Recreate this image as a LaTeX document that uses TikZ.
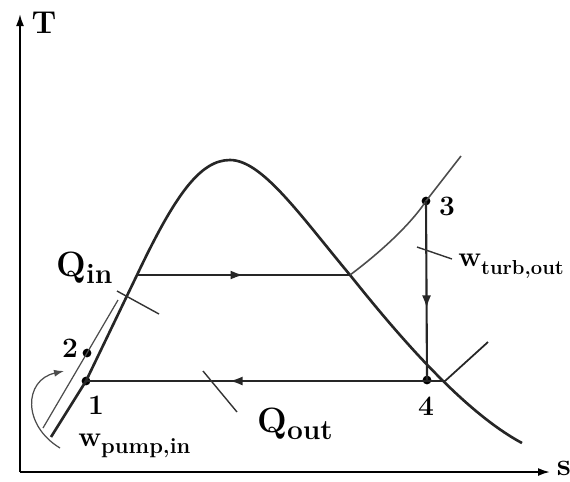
\documentclass[tikz,border=0pt]{standalone}
\usepackage{tikz}
\usetikzlibrary{arrows.meta, decorations.markings, calc}
\tikzset{
  axisline/.style={line width=1.1pt, -{Latex[length=2.4mm, width=1.6mm]}},
  domeline/.style={line width=1.5pt, draw=black!85},
  thinline/.style={line width=0.7pt, draw=black!70},
  tickline/.style={line width=0.8pt, draw=black!80},
  procline/.style={
    line width=1.2pt, draw=black!85, postaction={decorate},
    decoration={markings,
      mark=at position #1 with {\arrow{Latex[length=2.6mm, width=1.8mm]}}}
  },
  procline/.default=0.5,
  statept/.style={circle, fill=black, inner sep=0pt, minimum size=5pt},
  statelbl/.style={font=\fontsize{16}{17}\selectfont\bfseries},
  axislbl/.style={font=\fontsize{18}{19}\selectfont\bfseries},
  heatlbl/.style={anchor=west, inner sep=0pt, font=\fontsize{20}{21}\selectfont\bfseries},
  worklbl/.style={anchor=west, inner sep=0pt, font=\fontsize{16}{17}\selectfont\bfseries},
}

\begin{document}
\begin{tikzpicture}[x=0.02cm, y=-0.02cm]
    \useasboundingbox (0,0) rectangle (570,481);

    \coordinate (orig)  at (20,472);
    \coordinate (Ttop)  at (20,14);
    \coordinate (send)  at (550,472);
    \coordinate (fL)    at (137,275);
    \coordinate (gR)    at (350,275);
    \coordinate (gB)    at (445,381);
    \coordinate (domeA) at (51,437);
    \coordinate (domeB) at (522,443);
    \coordinate (supE)  at (461,156);
    \coordinate (isoE)  at (488,342);
    \coordinate (liqA)  at (43,428);
    \coordinate (liqB)  at (118,300);

    \node[statept] (p1) at (86,381) {};
    \node[statept] (p2) at (87,353) {};
    \node[statept] (p3) at (426,201) {};
    \node[statept] (p4) at (427,380) {};

    \draw[axisline] (orig) -- (Ttop);
    \draw[axisline] (orig) -- (send);
    \node[axislbl] (Tlbl) at (44,23) {T};
    \node[axislbl] (slbl) at (564,468) {s};

    \draw[thinline] (liqA) -- (p2.center) -- (liqB);

    \draw[domeline] (domeA) -- (p1.center) -- (fL)
      .. controls (175,195) and (200,160) .. (230,160)
      .. controls (262,160) and (300,215) .. (gR)
      .. controls (390,325) and (460,410) .. (domeB);

    \draw[thinline, line width=0.9pt] (gR) .. controls (390,245) and (415,218) .. (p3.center) -- (supE);
    \draw[thinline, line width=1pt, draw=black!85] (gB) -- (isoE);

    \draw[procline=0.5]  (fL) -- (gR);
    \draw[procline=0.6]  (p3.center) -- (p4.center);
    \draw[procline=0.6]  (gB) -- (p1.center);

    \coordinate (pmpA) at (60,448);
    \coordinate (pmpB) at (64,371);
    \draw[thinline, -{Latex[length=2mm, width=1.4mm]}] (pmpA) .. controls (22,425) and (24,380) .. (pmpB);

    \coordinate (qiA) at (117,291);
    \coordinate (qiB) at (159,314);
    \coordinate (qoA) at (203,371);
    \coordinate (qoB) at (237,412);
    \coordinate (wtA) at (417,247);
    \coordinate (wtB) at (452,259);
    \foreach \a/\b in {qiA/qiB, qoA/qoB, wtA/wtB}
      \draw[tickline] (\a) -- (\b);

    \node[statelbl] (l1) at (96,405) {1};
    \node[statelbl] (l2) at (70,348) {2};
    \node[statelbl] (l3) at (447,206) {3};
    \node[statelbl] (l4) at (426,406) {4};

    \node[heatlbl] (qin)  at (56,268)
         {Q\raisebox{-0.45ex}{\fontsize{16}{17}\selectfont in}};
    \node[heatlbl] (qout) at (257,424)
         {Q\raisebox{-0.45ex}{\fontsize{16}{17}\selectfont out}};
    \node[worklbl] (wtrb) at (458,266)
         {w\raisebox{-0.6ex}{\fontsize{11.5}{12}\selectfont turb,out}};
    \node[worklbl] (wpmp) at (78,446)
         {w\raisebox{-0.6ex}{\fontsize{12.5}{13}\selectfont pump,in}};

  \end{tikzpicture}
\end{document}
